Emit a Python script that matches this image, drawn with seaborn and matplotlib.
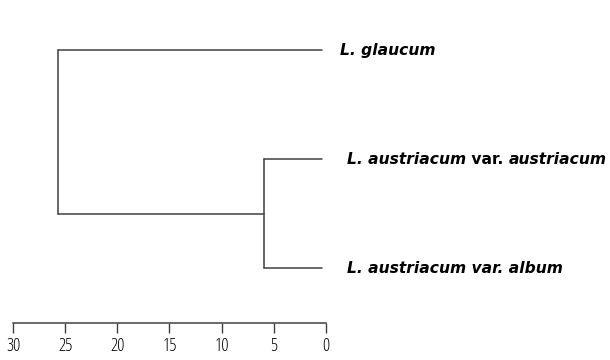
import matplotlib
matplotlib.use("Agg")
import matplotlib.pyplot as plt
import seaborn as sns
import pandas as pd

# ---- data ----
leaf_names = ["L. glaucum", "L. austriacum var. austriacum", "L. austriacum var. album"]
leaf_tip = 0.4           # rescaled distance at which leaves end
inner_height = 5.9       # merge of the two L. austriacum varieties
root_height = 25.7       # merge with L. glaucum
tick_values = [30, 25, 20, 15, 10, 5, 0]

# label pieces: (text, italic?)
label_parts = [
    [("L. glaucum", True)],
    [("L. austriacum", True), (" var. ", False), ("austriacum", True)],
    [("L. austriacum var. album", True)],
]

# ---- build dendrogram segments ----
yl = [0, 1, 2]
inner_y = (yl[1] + yl[2]) / 2
segs = []
segs.append([(leaf_tip, yl[0]), (root_height, yl[0])])
segs.append([(leaf_tip, yl[1]), (inner_height, yl[1])])
segs.append([(leaf_tip, yl[2]), (inner_height, yl[2])])
segs.append([(inner_height, yl[1]), (inner_height, yl[2])])
segs.append([(inner_height, inner_y), (root_height, inner_y)])
segs.append([(root_height, yl[0]), (root_height, inner_y)])
rows = []
for i, s in enumerate(segs):
    for j, (x, y) in enumerate(s):
        rows.append({"seg": i, "order": j, "x": x, "y": y})
df = pd.DataFrame(rows)

sns.set_style("white")
fig = plt.figure(figsize=(6.1, 3.6), dpi=100)
W, H = 610, 360
left, right = 13, 326
top, bottom = 28.2, 323
ax = fig.add_axes([left / W, (H - bottom) / H, (right - left) / W, (bottom - top) / H])

sns.lineplot(data=df, x="x", y="y", units="seg", estimator=None, sort=False,
             color="#404040", linewidth=1.1, ax=ax, legend=False)

ax.set_xlim(30, 0)
ax.set_ylim(2.5, -0.2)
ax.set_xlabel("")
ax.set_ylabel("")
ax.set_yticks([])
ax.set_xticks(tick_values)
ax.set_xticklabels([str(v) for v in tick_values],
                   fontfamily=["Open Sans"], fontsize=13, fontstretch="condensed",
                   fontweight="light", color="black")
ax.tick_params(axis="x", direction="out", length=7.5, width=1.0, color="#404040",
               pad=2.5, bottom=True)
for side in ["top", "right", "left"]:
    ax.spines[side].set_visible(False)
ax.spines["bottom"].set_color("#404040")
ax.spines["bottom"].set_linewidth(1.1)

# ---- labels ----
offsets = [10, 15, 15]
fam = "DejaVu Sans"
fs = 11.2
for k, parts in enumerate(label_parts):
    prev = None
    for text, it in parts:
        style = "italic" if it else "normal"
        if prev is None:
            prev = ax.annotate(text, xy=(0, yl[k]), xycoords="data",
                               xytext=(offsets[k], 0), textcoords="offset points",
                               ha="left", va="center", fontsize=fs, fontweight="bold",
                               fontstyle=style, fontfamily=fam, color="black",
                               annotation_clip=False)
        else:
            prev = ax.annotate(text, xy=(1, 0), xycoords=prev, ha="left", va="bottom",
                               fontsize=fs, fontweight="bold", fontstyle=style,
                               fontfamily=fam, color="black", annotation_clip=False)

fig.savefig("out.png", dpi=100)
